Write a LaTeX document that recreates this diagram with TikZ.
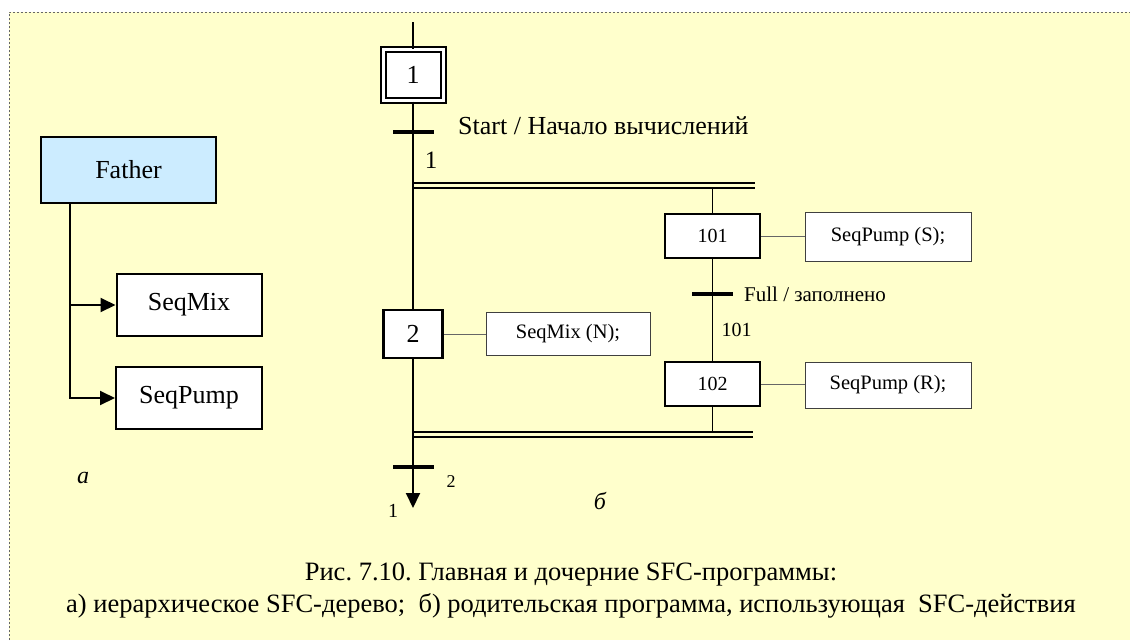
\documentclass[tikz,border=0pt]{standalone}
\usepackage{fontspec}
\setmainfont{Liberation Serif}
\usetikzlibrary{arrows.meta}
\definecolor{bgyellow}{HTML}{FFFFCC}
\definecolor{fatherblue}{HTML}{CCECFF}
\frenchspacing
\begin{document}
\begin{tikzpicture}[x=1pt,y=-1pt,
  fs/.style={font=\fontsize{#1}{#1}\selectfont},
  stepbox/.style={draw, line width=2.5pt, fill=white, inner sep=0pt},
  actbox/.style={draw=black!75, line width=1pt, fill=white, inner sep=0pt, fs=20.5},
  treebox/.style={draw, line width=2pt, fill=white, inner sep=0pt, fs=26},
  tbar/.style={fill=black, inner sep=0pt, minimum width=41pt, minimum height=4pt},
  mainline/.style={line width=2pt},
  branchline/.style={line width=1.6pt},
  dline/.style={line width=2.2pt},
  actline/.style={line width=1pt, draw=black!60},
  treeline/.style={line width=2pt},
  tip/.style={-{Triangle[length=15pt,width=14pt]}},
  lbl/.style={inner sep=0pt},
  frame/.style={draw=black!60, line width=1pt, dash pattern=on 2pt off 2pt}
]
\useasboundingbox (0,0) rectangle (1130,640);
\fill[white] (0,0) rectangle (1130,640);
\fill[bgyellow] (9,12) rectangle (1130,640);
\draw[frame] (9,640) -- (9,12) -- (1130,12);

% ---- left: tree
\node[treebox, fill=fatherblue, minimum width=175pt, minimum height=66pt] (father) at (128.5,170) {Father};
\node[treebox, minimum width=145pt, minimum height=62pt] (mix) at (189,305) {SeqMix};
\node[treebox, minimum width=146pt, minimum height=62pt] (pump) at (189,398) {SeqPump};
\coordinate (tr) at (70,203);
\draw[treeline, tip] (tr) |- (mix.west);
\draw[treeline, tip] (tr) |- (pump.west);
\node[lbl, font=\fontsize{24}{24}\selectfont\itshape] (la) at (83,478) {а};

% ---- right: SFC
\node[stepbox, line width=2pt, double, double distance=3pt, minimum width=60pt, minimum height=51pt, fs=26] (s1) at (413,75) {1};
\node[stepbox, minimum width=59pt, minimum height=48pt, fs=26] (s2) at (413,334) {2};
\node[stepbox, minimum width=95pt, minimum height=44pt, fs=20] (s101) at (712.5,236) {101};
\node[stepbox, minimum width=95pt, minimum height=44pt, fs=20] (s102) at (712.5,384) {102};

\node[actbox, minimum width=164pt, minimum height=43pt] (amix) at (568,334) {SeqMix (N);};
\node[actbox, minimum width=166pt, minimum height=49pt] (aps) at (888,237) {SeqPump (S);};
\node[actbox, minimum width=166pt, minimum height=46pt] (apr) at (888,385) {SeqPump (R);};

\coordinate (top) at (413,22);
\coordinate (dvAL) at (413,183); \coordinate (dvAR) at (755,183);
\coordinate (dvBL) at (413,188); \coordinate (dvBR) at (755,188);
\coordinate (brtop) at (712.5,188);
\coordinate (cvAL) at (413,432); \coordinate (cvAR) at (753,432);
\coordinate (cvBL) at (413,437); \coordinate (cvBR) at (753,437);
\coordinate (brbot) at (712.5,432);
\coordinate (endp) at (413,508);

\draw[mainline] (top) -- (s1.north);
\draw[mainline] (s1.south) -- (s2.north);
\draw[mainline, tip] (s2.south) -- (endp);
\draw[dline] (dvAL) -- (dvAR);
\draw[dline] (dvBL) -- (dvBR);
\draw[dline] (cvAL) -- (cvAR);
\draw[dline] (cvBL) -- (cvBR);
\draw[branchline] (brtop) -- (s101.north);
\draw[branchline] (s101.south) -- (s102.north);
\draw[branchline] (s102.south) -- (brbot);

\node[tbar] (t1) at (413,132) {};
\node[tbar] (t101) at (712.5,294) {};
\node[tbar] (t2) at (413,467) {};

\draw[actline] (s2.east) -- (s2.east -| amix.west);
\draw[actline] (s101.east) -- (s101.east -| aps.west);
\draw[actline] (s102.east) -- (s102.east -| apr.west);

\node[lbl, fs=26, anchor=west] (c1) at (458,126) {Start / Начало вычислений};
\node[lbl, fs=25] (n1) at (431,160) {1};
\node[lbl, fs=21, anchor=west] (c101) at (744,294) {Full / заполнено};
\node[lbl, fs=20] (n101) at (736.5,330) {101};
\node[lbl, fs=18] (n2) at (451,482) {2};
\node[lbl, fs=20] (n1b) at (393,511) {1};
\node[lbl, font=\fontsize{24}{24}\selectfont\itshape] (lb) at (600,501) {б};

\node[lbl, align=center, font=\fontsize{26.5}{32}\selectfont] (cap) at (571,591)
  {Рис. 7.10. Главная и дочерние SFC-программы:\\
   а) иерархическое SFC-дерево;\ \ б) родительская программа, использующая\ \ SFC-действия};
\end{tikzpicture}
\end{document}
